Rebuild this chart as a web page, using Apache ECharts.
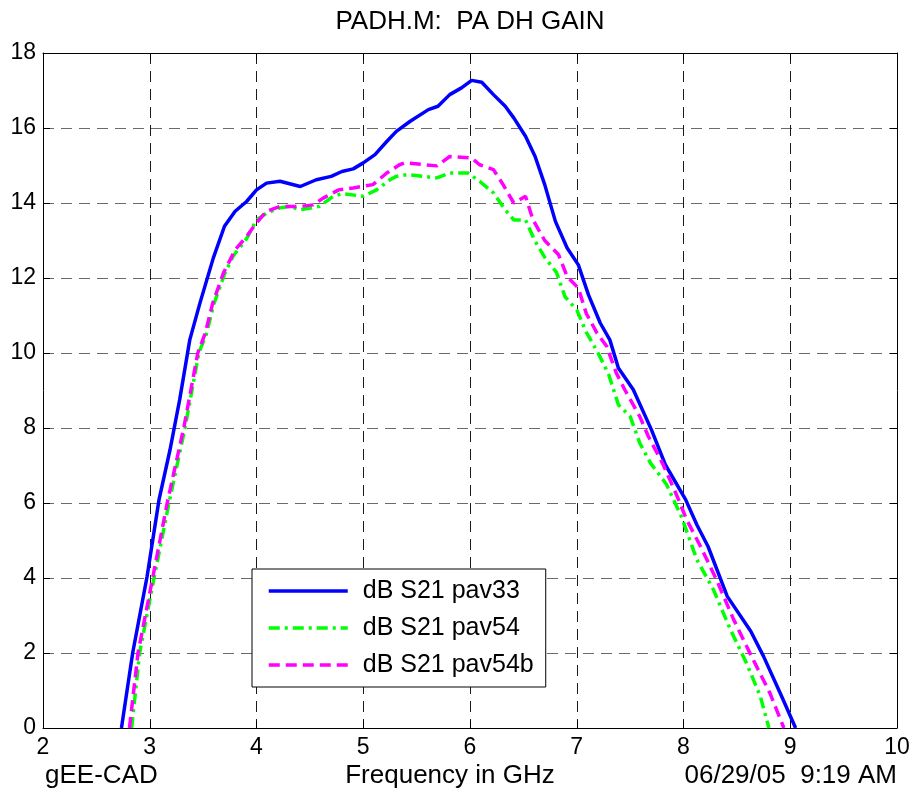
<!DOCTYPE html>
<html>
<head>
<meta charset="utf-8">
<script src="https://cdn.jsdelivr.net/npm/echarts@6/dist/echarts.min.js"></script>
<style>
html,body{margin:0;padding:0;background:#fff;}
#chart{width:916px;height:796px;}
</style>
</head>
<body>
<div id="chart"></div>
<script>
// ---- Data ----
var titleText = 'PADH.M:  PA DH GAIN';
var xAxisName = 'Frequency in GHz';
var footLeft = 'gEE-CAD';
var footRight = '06/29/05  9:19 AM';
var seriesNames = ['dB S21 pav33', 'dB S21 pav54', 'dB S21 pav54b'];

var freqPav33 = [2.735,2.84,2.975,3.087,3.19,3.28,3.375,3.47,3.595,3.70,3.80,3.907,4.0,4.094,4.22,4.41,4.56,4.70,4.80,4.906,5.0,5.11,5.22,5.31,5.44,5.61,5.70,5.81,5.92,6.016,6.11,6.22,6.33,6.41,6.52,6.61,6.70,6.80,6.91,7.015,7.11,7.22,7.31,7.39,7.53,7.70,7.83,8.02,8.125,8.23,8.41,8.63,8.75,8.92,9.05];
var gainPav33 = [0,2.0,4.04,6.09,7.42,8.75,10.35,11.33,12.53,13.38,13.78,14.04,14.35,14.53,14.58,14.44,14.62,14.71,14.84,14.91,15.07,15.29,15.64,15.91,16.18,16.49,16.58,16.89,17.07,17.27,17.22,16.89,16.58,16.27,15.78,15.24,14.49,13.51,12.80,12.35,11.55,10.8,10.35,9.6,9.02,7.95,7.02,6.09,5.42,4.84,3.51,2.58,1.91,0.84,0];

var freqPav54 = [2.83,2.905,3.04,3.18,3.33,3.46,3.53,3.60,3.70,3.78,3.907,4.0,4.094,4.22,4.31,4.41,4.59,4.72,4.80,5.0,5.125,5.25,5.31,5.42,5.56,5.69,5.81,5.98,6.09,6.22,6.33,6.41,6.52,6.61,6.70,6.81,6.89,7.0,7.09,7.20,7.30,7.39,7.50,7.59,7.69,7.84,7.98,8.125,8.28,8.44,8.59,8.72,8.80];
var gainPav54 = [0,2.0,4.0,6.0,8.0,10.0,10.5,11.3,12.1,12.58,13.05,13.55,13.73,13.87,13.91,13.82,13.91,14.18,14.25,14.18,14.35,14.62,14.71,14.76,14.71,14.67,14.8,14.8,14.58,14.27,13.82,13.55,13.55,12.98,12.55,12.15,11.5,11.15,10.55,10.0,9.42,8.62,8.31,7.6,7.07,6.5,5.64,4.49,3.69,2.62,1.73,0.84,0];

var freqPav54b = [2.81,2.89,3.03,3.17,3.32,3.45,3.52,3.59,3.69,3.80,3.907,4.0,4.094,4.22,4.41,4.53,4.625,4.77,4.906,5.09,5.22,5.34,5.39,5.69,5.81,6.016,6.09,6.22,6.31,6.41,6.52,6.59,6.70,6.83,6.91,7.015,7.09,7.19,7.28,7.37,7.45,7.59,7.67,7.81,7.94,8.03,8.16,8.31,8.47,8.63,8.81,8.94];
var gainPav54b = [0,2.0,4.04,6.09,8.02,10.0,10.53,11.33,12.13,12.75,13.11,13.47,13.78,13.91,13.91,13.95,14.13,14.35,14.4,14.49,14.8,15.02,15.07,14.99,15.24,15.2,15.02,14.89,14.49,14.0,14.18,13.55,13.0,12.62,12.04,11.73,11.05,10.53,10.18,9.47,9.02,8.31,7.78,7.02,6.18,5.55,4.84,3.95,2.89,1.95,0.93,0];

var xTicks = [2,3,4,5,6,7,8,9,10];
var yTicks = [0,2,4,6,8,10,12,14,16,18];

function pairs(xs, ys){ return xs.map(function(x,i){ return [x, ys[i]]; }); }

var FONT = "'Liberation Sans', Arial, sans-serif";
var chart = echarts.init(document.getElementById('chart'), null, {renderer:'canvas'});

var dashGrid = [11,7];
function baseX(pos, showLabel){
  return {
    type:'value', position:pos, min:xTicks[0], max:xTicks[xTicks.length-1], interval:1,
    axisLine:{show:true, onZero:false, lineStyle:{color:'#000', width:1}},
    axisTick:{show:true, inside:true, length:7, lineStyle:{color:'#000'}},
    axisLabel:{show:showLabel, margin:8, color:'#000', fontSize:23, fontFamily:FONT},
    splitLine:{show:showLabel, lineStyle:{color:'#1a1a1a', type:dashGrid, width:1}}
  };
}
function baseY(pos, showLabel){
  return {
    type:'value', position:pos, min:yTicks[0], max:yTicks[yTicks.length-1], interval:2,
    axisLine:{show:true, onZero:false, lineStyle:{color:'#000', width:1}},
    axisTick:{show:true, inside:true, length:7, lineStyle:{color:'#000'}},
    axisLabel:{show:showLabel, margin:7, color:'#000', fontSize:23, fontFamily:FONT},
    splitLine:{show:showLabel, lineStyle:{color:'#6a6a6a', type:dashGrid, width:1}}
  };
}

var option = {
  backgroundColor:'#fff',
  animation:false,
  grid:{left:43, right:19, top:53, bottom:68, containLabel:false},
  xAxis:[baseX('bottom', true), baseX('top', false)],
  yAxis:[baseY('left', true), baseY('right', false)],
  legend:{
    orient:'vertical', left:252, top:569,
    padding:[9,12,9,15], itemWidth:79, itemHeight:14, itemGap:11,
    backgroundColor:'#fff', borderColor:'#000', borderWidth:1,
    itemStyle:{opacity:0},
    lineStyle:{width:3.5},
    textStyle:{color:'#000', fontSize:25, fontFamily:FONT, lineHeight:26, padding:[0,0,0,10]},
    data:seriesNames
  },
  series:[
    {name:seriesNames[0], type:'line', xAxisIndex:0, yAxisIndex:0, symbol:'none', smooth:false,
     data:pairs(freqPav33, gainPav33), color:'#0000ff',
     lineStyle:{color:'#0000ff', width:3.5, type:'solid'}},
    {name:seriesNames[1], type:'line', xAxisIndex:0, yAxisIndex:0, symbol:'none', smooth:false,
     data:pairs(freqPav54, gainPav54), color:'#00ff00',
     lineStyle:{color:'#00ff00', width:3.5, type:[11,5,3,5]}},
    {name:seriesNames[2], type:'line', xAxisIndex:0, yAxisIndex:0, symbol:'none', smooth:false,
     data:pairs(freqPav54b, gainPav54b), color:'#ff00ff',
     lineStyle:{color:'#ff00ff', width:3.5, type:[11,6]}}
  ],
  graphic:[
    {type:'text', x:470, y:9, style:{text:titleText, fill:'#000', font:'26px '+FONT, align:'center'}},
    {type:'text', x:45, y:763, style:{text:footLeft, fill:'#000', font:'26px '+FONT, align:'left'}},
    {type:'text', x:450, y:763, style:{text:xAxisName, fill:'#000', font:'26px '+FONT, align:'center'}},
    {type:'text', x:897, y:763, style:{text:footRight, fill:'#000', font:'26px '+FONT, align:'right'}}
  ]
};
chart.setOption(option);
</script>
</body>
</html>
